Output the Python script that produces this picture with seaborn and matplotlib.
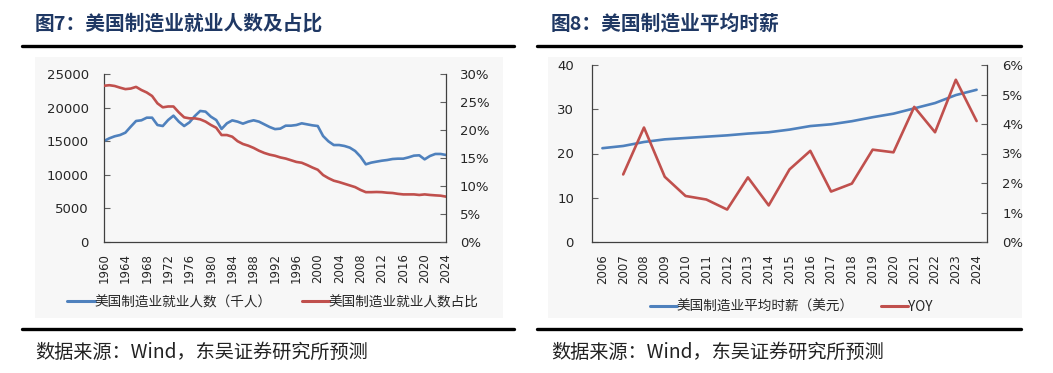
import matplotlib
matplotlib.use("Agg")
import matplotlib.pyplot as plt
import seaborn as sns
import pandas as pd
from matplotlib.lines import Line2D
from matplotlib.patches import Rectangle
from matplotlib.ticker import FuncFormatter


# ─────────────────────────────────────────────
# data
# ─────────────────────────────────────────────

emp_years = list(range(1960, 2025))

# manufacturing employment, thousands
emp_count = [
    15030, 15430, 15730, 15920, 16270, 17160, 18010, 18110, 18500, 18500,
    17410, 17260, 18150, 18800, 17910, 17260, 17810, 18750, 19500, 19400,
    18650, 18150, 16820, 17660, 18100, 17910, 17610, 17910, 18110, 17910,
    17510, 17110, 16800, 16870, 17310, 17310, 17410, 17660, 17510, 17360,
    17260, 15770, 14980, 14430, 14430, 14290, 14040, 13540, 12700, 11560,
    11810, 11960, 12100, 12200, 12350, 12400, 12400, 12600, 12850, 12900,
    12300, 12800, 13100, 13100, 12950,
]

# share of total employment, %
emp_share = [
    27.9, 28.0, 27.86, 27.56, 27.3, 27.4, 27.7, 27.14, 26.7, 26.07,
    24.76, 24.05, 24.2, 24.2, 23.15, 22.26, 22.08, 22.08, 21.9, 21.5,
    20.9, 20.4, 19.1, 19.1, 18.8, 18.0, 17.5, 17.2, 16.8, 16.3,
    15.9, 15.6, 15.4, 15.1, 14.9, 14.6, 14.3, 14.15, 13.75, 13.3,
    12.9, 11.96, 11.4, 10.95, 10.7, 10.4, 10.1, 9.8, 9.3, 8.9,
    8.9, 8.93, 8.9, 8.8, 8.75, 8.6, 8.5, 8.5, 8.5, 8.4,
    8.5, 8.4, 8.33, 8.27, 8.1,
]

wage_years = list(range(2006, 2025))

# average hourly wage, USD
wage = [
    21.2, 21.7, 22.6, 23.2, 23.5, 23.8, 24.1, 24.5, 24.8, 25.4,
    26.2, 26.6, 27.3, 28.2, 29.0, 30.2, 31.4, 33.2, 34.4,
]

# wage YoY, % (no value for 2006)
wage_yoy = [
    None, 2.29, 3.88, 2.21, 1.56, 1.44, 1.10, 2.19, 1.24, 2.46,
    3.09, 1.71, 1.98, 3.13, 3.04, 4.58, 3.72, 5.50, 4.10,
]

left_title = "图7：美国制造业就业人数及占比"
right_title = "图8：美国制造业平均时薪"
source_text = "数据来源：Wind，东吴证券研究所预测"
emp_labels = ["美国制造业就业人数（千人）", "美国制造业就业人数占比"]
wage_labels = ["美国制造业平均时薪（美元）", "YOY"]


# ─────────────────────────────────────────────
# style
# ─────────────────────────────────────────────

sns.set_style("white")
plt.rcParams["font.family"] = ["DejaVu Sans", "Noto Sans CJK SC"]
plt.rcParams["axes.unicode_minus"] = False

BLUE = "#4F81BD"
RED = "#C0504D"
NAVY = "#1F3864"
BG = "#F7F7F7"
LW = 1.9
W, H = 1053, 373


# pixel box (from the top-left) -> figure fraction rect
def _rect(x0, y0, x1, y1):
    return [x0 / W, 1 - y1 / H, (x1 - x0) / W, (y1 - y0) / H]


def _fx(x):
    return x / W


def _fy(y):
    return 1 - y / H


fig = plt.figure(figsize=(W / 100, H / 100), dpi=100)

# light grey chart boxes
for x0, x1 in [(35, 503), (548, 1022)]:
    fig.add_artist(Rectangle((_fx(x0), _fy(318)), (x1 - x0) / W, (318 - 57) / H,
                             transform=fig.transFigure, facecolor=BG,
                             edgecolor="none", zorder=0))

# thick black rules above and below each chart
for x0, x1 in [(22, 514), (537, 1021)]:
    for y in (46, 329):
        fig.add_artist(Line2D([_fx(x0), _fx(x1)], [_fy(y), _fy(y)],
                              transform=fig.transFigure, color="black",
                              linewidth=2.4, zorder=1))

# titles and source lines
for x, title in [(35, left_title), (551, right_title)]:
    fig.text(_fx(x), _fy(24), title, fontsize=14.2, fontweight="bold",
             color=NAVY, va="center", ha="left", family=["Noto Sans CJK SC"])
    fig.text(_fx(x), _fy(352), source_text, fontsize=13.8, color="#222222",
             va="center", ha="left", family=["Noto Sans CJK SC"])


def _style_axes(ax, ax2):
    ax.set_facecolor("none")
    for side in ["left", "bottom"]:
        ax.spines[side].set_color("#404040")
        ax.spines[side].set_linewidth(0.9)
    ax.spines["top"].set_visible(False)
    ax.spines["right"].set_visible(False)
    for side in ["top", "left", "bottom"]:
        ax2.spines[side].set_visible(False)
    ax2.spines["right"].set_color("#404040")
    ax2.spines["right"].set_linewidth(0.9)
    ax.set_xlabel("")
    ax.set_ylabel("")
    ax2.set_xlabel("")
    ax2.set_ylabel("")


legend_font = {"family": ["Noto Sans CJK SC"], "size": 9.8}

# ─────────────────────────────────────────────
# left: employment and share
# ─────────────────────────────────────────────

emp_df = pd.DataFrame({"year": emp_years, "count": emp_count, "share": emp_share})

axL = fig.add_axes(_rect(104, 74, 446, 242))
axL2 = axL.twinx()
sns.lineplot(data=emp_df, x="year", y="count", ax=axL, color=BLUE, linewidth=LW)
sns.lineplot(data=emp_df, x="year", y="share", ax=axL2, color=RED, linewidth=LW)

axL.set_xlim(1960, 2024)
axL.set_ylim(0, 25000)
axL.set_yticks([0, 5000, 10000, 15000, 20000, 25000])
axL2.set_ylim(0, 30)
axL2.set_yticks([0, 5, 10, 15, 20, 25, 30])
axL2.yaxis.set_major_formatter(FuncFormatter(lambda v, _: f"{v:.0f}%"))
axL.set_xticks(emp_years[::4])
axL.set_xticklabels([str(y) for y in emp_years[::4]], rotation=90)
axL.tick_params(axis="x", direction="in", length=4, color="#606060",
                labelsize=8.5, pad=8)
axL.tick_params(axis="y", direction="in", length=4, color="#606060",
                labelsize=9.5, pad=11)
axL2.tick_params(axis="y", direction="in", length=4, color="#606060",
                 labelsize=9.5, pad=10)
_style_axes(axL, axL2)

fig.legend(
    [Line2D([], [], color=BLUE, linewidth=2.2), Line2D([], [], color=RED, linewidth=2.2)],
    emp_labels, loc="center", bbox_to_anchor=(_fx(273), _fy(302)), ncol=2,
    frameon=False, handlelength=2.0, handletextpad=0.0,
    columnspacing=2.2, prop=legend_font,
)


# ─────────────────────────────────────────────
# right: hourly wage and yoy
# ─────────────────────────────────────────────

wage_df = pd.DataFrame({"year": wage_years, "wage": wage, "yoy": wage_yoy})

axR = fig.add_axes(_rect(592, 65, 987, 242))
axR2 = axR.twinx()
sns.lineplot(data=wage_df, x="year", y="wage", ax=axR, color=BLUE, linewidth=LW)
sns.lineplot(data=wage_df.dropna(), x="year", y="yoy", ax=axR2, color=RED, linewidth=LW)

axR.set_xlim(wage_years[0] - 0.5, wage_years[-1] + 0.5)
axR.set_ylim(0, 40)
axR.set_yticks([0, 10, 20, 30, 40])
axR2.set_ylim(0, 6)
axR2.set_yticks([0, 1, 2, 3, 4, 5, 6])
axR2.yaxis.set_major_formatter(FuncFormatter(lambda v, _: f"{v:.0f}%"))
axR.set_xticks(wage_years)
axR.set_xticklabels([str(y) for y in wage_years], rotation=90)
axR.set_xticks([y - 0.5 for y in wage_years] + [wage_years[-1] + 0.5], minor=True)
axR.tick_params(axis="x", which="major", length=0, labelsize=8.5, pad=9)
axR.tick_params(axis="x", which="minor", direction="in", length=4, color="#606060")
axR.tick_params(axis="y", direction="in", length=4, color="#606060",
                labelsize=9.5, pad=13)
axR2.tick_params(axis="y", direction="in", length=4, color="#606060",
                 labelsize=9.5, pad=11)
_style_axes(axR, axR2)

fig.legend(
    [Line2D([], [], color=BLUE, linewidth=2.2), Line2D([], [], color=RED, linewidth=2.2)],
    wage_labels, loc="center", bbox_to_anchor=(_fx(791), _fy(307)), ncol=2,
    frameon=False, handlelength=2.0, handletextpad=0.0,
    columnspacing=1.95, prop=legend_font,
)

fig.savefig("out.png", dpi=100)
plt.close(fig)
